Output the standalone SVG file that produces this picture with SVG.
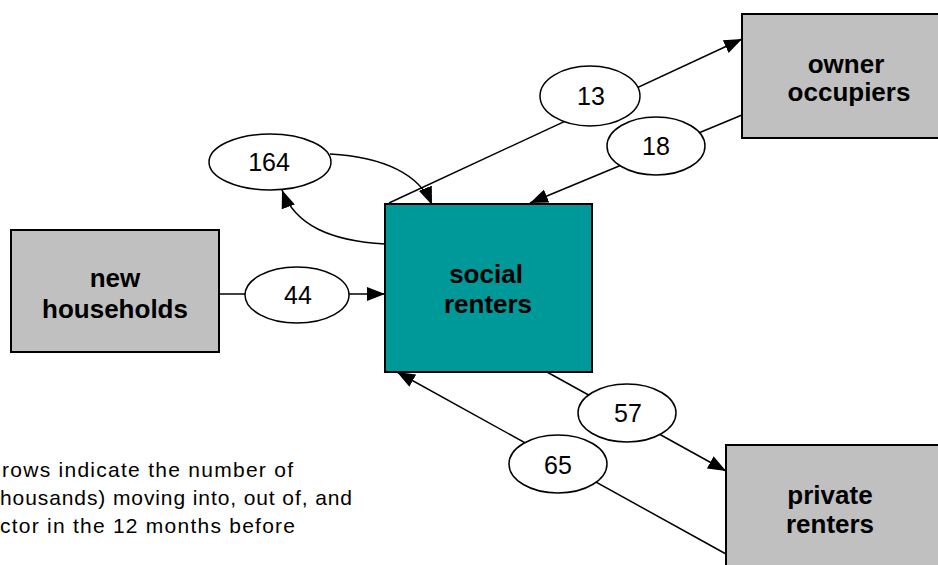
<svg xmlns="http://www.w3.org/2000/svg" width="938" height="565" viewBox="0 0 938 565">
<defs>
<marker id="arr" markerUnits="userSpaceOnUse" markerWidth="18" markerHeight="14" refX="18" refY="7" orient="auto">
<path d="M0,0 L18,7 L0,14 z" fill="#000"/>
</marker>
<style>
.box{fill:#c0c0c0;stroke:#000;stroke-width:2}
.teal{fill:#009999;stroke:#000;stroke-width:2}
.lbl{font-family:"Liberation Sans",Arial,sans-serif;font-weight:bold;font-size:26px;text-anchor:middle;fill:#000}
.ell{fill:#fff;stroke:#000;stroke-width:1.5}
.num{font-family:"Liberation Sans",Arial,sans-serif;font-size:25px;text-anchor:middle;fill:#000}
.ln{fill:none;stroke:#000;stroke-width:1.5}
.note{font-family:"Liberation Sans",Arial,sans-serif;font-size:21px;fill:#000}
</style>
</defs>
<rect width="938" height="565" fill="#fff"/>
<g id="connectors">
<line class="ln" x1="389" y1="203" x2="742" y2="39" marker-end="url(#arr)"/>
<line class="ln" x1="742" y1="115" x2="530" y2="203" marker-end="url(#arr)"/>
<path class="ln" d="M385,244 C330,241 295,225 282,190" marker-end="url(#arr)"/>
<path class="ln" d="M330,154 C385,157 420,175 432,205" marker-end="url(#arr)"/>
<line class="ln" x1="219" y1="294" x2="246" y2="294"/>
<line class="ln" x1="349" y1="294" x2="385" y2="294" marker-end="url(#arr)"/>
<line class="ln" x1="547" y1="372" x2="726" y2="471" marker-end="url(#arr)"/>
<line class="ln" x1="726" y1="554" x2="397" y2="372" marker-end="url(#arr)"/>
</g>
<g id="social-renters">
<rect class="teal" x="385" y="204" width="207" height="168"/>
<text class="lbl" x="486" y="283">social</text>
<text class="lbl" x="488" y="313">renters</text>
</g>
<g id="new-households">
<rect class="box" x="11" y="230" width="208" height="122"/>
<text class="lbl" x="115" y="287">new</text>
<text class="lbl" x="115" y="318">households</text>
</g>
<g id="owner-occupiers">
<rect class="box" x="742" y="14" width="212" height="124"/>
<text class="lbl" x="846" y="73">owner</text>
<text class="lbl" x="849" y="101">occupiers</text>
</g>
<g id="private-renters">
<rect class="box" x="726" y="445" width="228" height="140"/>
<text class="lbl" x="830" y="504">private</text>
<text class="lbl" x="830" y="533">renters</text>
</g>
<g id="label-13"><ellipse class="ell" cx="590" cy="96" rx="50" ry="30"/><text class="num" x="591" y="105">13</text></g>
<g id="label-18"><ellipse class="ell" cx="656" cy="146" rx="49" ry="29"/><text class="num" x="656" y="155">18</text></g>
<g id="label-164"><ellipse class="ell" cx="270" cy="162" rx="61" ry="28"/><text class="num" x="269" y="171">164</text></g>
<g id="label-44"><ellipse class="ell" cx="297" cy="295" rx="52" ry="28"/><text class="num" x="298" y="304">44</text></g>
<g id="label-57"><ellipse class="ell" cx="627" cy="413" rx="49" ry="29"/><text class="num" x="628" y="422">57</text></g>
<g id="label-65"><ellipse class="ell" cx="558" cy="464" rx="49" ry="29"/><text class="num" x="558" y="474">65</text></g>
<g id="note">
<text class="note" x="2" y="477" textLength="291" lengthAdjust="spacing">rows indicate the number of</text>
<text class="note" x="0" y="505" textLength="352" lengthAdjust="spacing">housands) moving into, out of, and</text>
<text class="note" x="0" y="533" textLength="295" lengthAdjust="spacing">ctor in the 12 months before</text>
</g>
</svg>
